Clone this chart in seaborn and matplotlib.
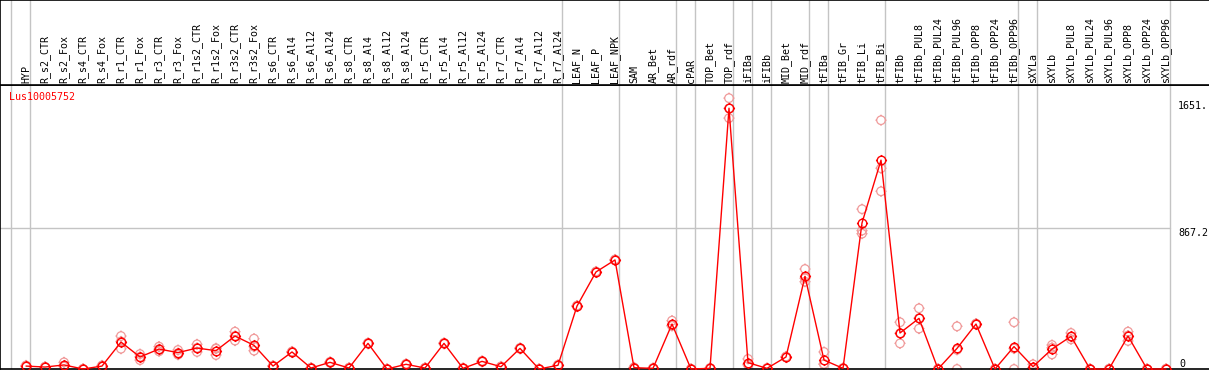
import numpy as np
import pandas as pd
import matplotlib
matplotlib.use("Agg")
import matplotlib.pyplot as plt
from matplotlib.path import Path
import seaborn as sns

categories = ["HYP", "R_s2_CTR", "R_s2_Fox", "R_s4_CTR", "R_s4_Fox", "R_r1_CTR", "R_r1_Fox",
              "R_r3_CTR", "R_r3_Fox", "R_r1s2_CTR", "R_r1s2_Fox", "R_r3s2_CTR", "R_r3s2_Fox",
              "R_s6_CTR", "R_s6_Al4", "R_s6_Al12", "R_s6_Al24", "R_s8_CTR", "R_s8_Al4",
              "R_s8_Al12", "R_s8_Al24", "R_r5_CTR", "R_r5_Al4", "R_r5_Al12", "R_r5_Al24",
              "R_r7_CTR", "R_r7_Al4", "R_r7_Al12", "R_r7_Al24", "LEAF_N", "LEAF_P", "LEAF_NPK",
              "SAM", "AR_Bet", "AR_rdf", "cPAR", "TOP_Bet", "TOP_rdf", "iFIBa", "iFIBb",
              "MID_Bet", "MID_rdf", "tFIBa", "tFIB_Gr", "tFIB_Li", "tFIB_Bi", "tFIBb",
              "tFIBb_PUL8", "tFIBb_PUL24", "tFIBb_PUL96", "tFIBb_OPP8", "tFIBb_OPP24",
              "tFIBb_OPP96", "sXYLa", "sXYLb", "sXYLb_PUL8", "sXYLb_PUL24", "sXYLb_PUL96",
              "sXYLb_OPP8", "sXYLb_OPP24", "sXYLb_OPP96"]

means = [18, 12, 25, 0, 18, 166, 74, 123, 101, 129, 113, 203, 146,
         18, 105, 6, 41, 6, 158, 0, 29, 6, 158, 4, 47, 14, 127, 0, 23,
         388, 598, 672, 8, 4, 277, 0, 4, 1607, 39, 4, 74, 571, 55, 4, 900, 1287,
         222, 312, 0, 127, 277, 0, 138, 14, 123, 201, 0, 0, 203, 0, 0]

rep1 = [18, 12, 41, 0, 18, 203, 92, 138, 117, 152, 125, 230, 187,
        18, 105, 6, 41, 6, 158, 0, 29, 6, 158, 4, 47, 14, 127, 0, 23,
        388, 598, 672, 8, 4, 298, 0, 4, 1669, 62, 4, 74, 616, 105, 4, 985, 1533,
        288, 374, 0, 263, 277, 0, 288, 29, 148, 222, 0, 0, 230, 0, 0]
rep2 = [14, 10, 15, 0, 14, 125, 55, 109, 88, 105, 86, 175, 113,
        15, 102, 4, 38, 4, 155, 0, 26, 4, 155, 2, 44, 12, 124, 0, 20,
        385, 595, 669, 6, 2, 267, 0, 2, 1546, 25, 2, 71, 538, 29, 2, 853, 1237,
        158, 249, 0, 0, 274, 0, 0, 6, 90, 183, 0, 0, 173, 0, 0]
rep3 = [22, 14, 20, 0, 22, 170, 75, 122, 98, 130, 128, 204, 138,
        21, 108, 8, 44, 8, 161, 0, 32, 8, 161, 6, 50, 16, 130, 0, 26,
        391, 601, 675, 10, 6, 266, 0, 6, 1606, 30, 6, 77, 559, 31, 6, 834, 1095,
        220, 313, 0, 118, 280, 0, 126, 7, 131, 198, 0, 0, 206, 0, 0]

# group separators sit just right of these category indices
group_ends = [-1, 0, 28, 31, 34, 35, 37, 38, 39, 41, 42, 45, 52, 53, 60]

W, H = 1209, 370
x0_px, step_px = 26, 19          # pixel of first category, spacing
top_px, bot_px = 85, 369         # plot area in pixels (from top)
ymax = 1750

idx = np.arange(len(categories))
df_mean = pd.DataFrame({"x": idx, "value": means})
df_rep = pd.DataFrame({"x": np.tile(idx, 3), "value": rep1 + rep2 + rep3})

# circle with four small ticks
circ = Path.unit_circle()
ticks = Path([(0, 1), (0, 1.3), (0, -1), (0, -1.3), (1, 0), (1.3, 0), (-1, 0), (-1.3, 0)],
             [Path.MOVETO, Path.LINETO] * 4)
mark = Path.make_compound_path(circ, ticks)

sns.set_style("white")
plt.rcParams["font.family"] = ["DejaVu Sans Mono", "DejaVu Sans"]
plt.rcParams["text.color"] = "black"

fig = plt.figure(figsize=(W / 100, H / 100), dpi=100)
xlim = (-x0_px / step_px, (W - x0_px) / step_px)

ax = fig.add_axes([0, (H - bot_px) / H, 1, (bot_px - top_px) / H])
hx = fig.add_axes([0, (H - top_px) / H, 1, top_px / H])

grid_c = "#c4c4c4"
for a in (ax, hx):
    a.set_xlim(*xlim)
    for g in group_ends:
        a.axvline(g + 4 / step_px, color=grid_c, lw=1, zorder=0)
    a.set_xticks([])
    a.set_yticks([])
    for s in a.spines.values():
        s.set_color("black")
        s.set_linewidth(1.2)
    a.spines["right"].set_visible(False)

ax.set_ylim(0, ymax)
ax.plot([xlim[0], 60 + 4 / step_px], [867.2, 867.2], color=grid_c, lw=1, zorder=0)

sns.scatterplot(data=df_rep, x="x", y="value", ax=ax, marker=mark, s=64,
                facecolor="none", edgecolor="#f09a9a", linewidth=0.9, clip_on=False,
                zorder=2, legend=False)
sns.lineplot(data=df_mean, x="x", y="value", ax=ax, color="red", lw=1,
             marker=mark, markersize=8, markerfacecolor="none",
             markeredgecolor="red", markeredgewidth=1.0, clip_on=False, zorder=3)
ax.set_xlabel("")
ax.set_ylabel("")

hx.set_ylim(0, 1)
for i, lab in enumerate(categories):
    hx.text(i, 0.025, lab, rotation=90, ha="center", va="bottom", fontsize=7.2,
            color="black")

lab_x = (1178 - x0_px) / step_px
ax.text(lab_x, 1651, "1651.", ha="left", va="top", fontsize=7.2, clip_on=False)
ax.text(lab_x, 867.2, "867.2", ha="left", va="top", fontsize=7.2, clip_on=False)
ax.text(lab_x + 0.05, 0, "0", ha="left", va="bottom", fontsize=7.2, clip_on=False)
ax.text((9 - x0_px) / step_px, ymax - 12 / ((bot_px - top_px) / ymax), "Lus10005752",
        color="red", ha="left", va="center", fontsize=7.2)

fig.savefig("out.png", dpi=100)
